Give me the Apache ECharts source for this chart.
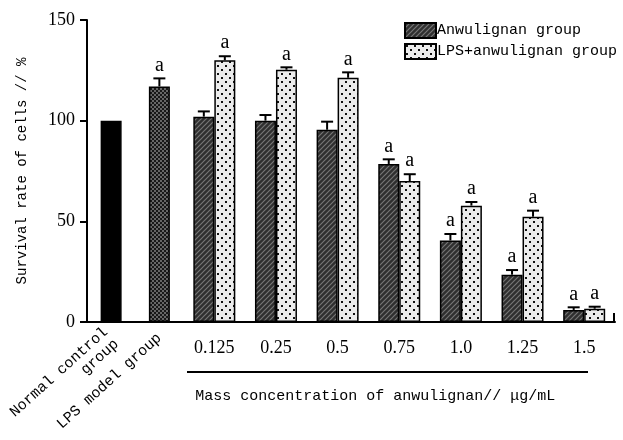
<!DOCTYPE html>
<html>
<head>
<meta charset="utf-8">
<script src="https://cdn.jsdelivr.net/npm/echarts@6/dist/echarts.min.js"></script>
<style>
    html, body { margin: 0; padding: 0; background: #fff; }
    #main { width: 623px; height: 440px; }
</style>
</head>
<body>
<div id="main"></div>
<script>
// control groups (left part of the chart)
var controlNames = ['Normal control\ngroup', 'LPS model group'];
var controlValues = [100, 117];
var controlErr = [0, 4];
var controlMarks = ['', 'a'];

// anwulignan concentrations
var concLabels = ['0.125', '0.25', '0.5', '0.75', '1.0', '1.25', '1.5'];
var anwValues = [102, 100, 95.5, 78.5, 40.5, 23.5, 6];
var anwErr = [2.6, 2.8, 4, 2.3, 3.2, 2.3, 1.3];
var anwMarks = ['', '', '', 'a', 'a', 'a', 'a'];
var lpsValues = [130, 125.3, 121.3, 70, 57.8, 52.3, 6.6];
var lpsErr = [2, 1.2, 2.7, 3.4, 1.8, 3, 1];
var lpsMarks = ['a', 'a', 'a', 'a', 'a', 'a', 'a'];

var yTicks = [0, 50, 100, 150];

var monoFont = '"Liberation Mono", "DejaVu Sans Mono", monospace';
var serifFont = '"Liberation Serif", "DejaVu Serif", serif';
var barW = 21;

// fill patterns
function makeCanvas(w, h, draw) {
    var c = document.createElement('canvas');
    c.width = w;
    c.height = h;
    draw(c.getContext('2d'));
    return c;
}
var hatch = makeCanvas(5, 5, function(ctx) {
    ctx.fillStyle = '#2f2f2f';
    ctx.fillRect(0, 0, 5, 5);
    ctx.strokeStyle = '#767676';
    ctx.lineWidth = 1.2;
    ctx.beginPath();
    ctx.moveTo(-1, 6); ctx.lineTo(6, -1);
    ctx.moveTo(-1, 1); ctx.lineTo(1, -1);
    ctx.moveTo(4, 6); ctx.lineTo(6, 4);
    ctx.stroke();
});
var dots = makeCanvas(8, 8, function(ctx) {
    ctx.fillStyle = '#ececec';
    ctx.fillRect(0, 0, 8, 8);
    ctx.fillStyle = '#111';
    ctx.fillRect(1, 1, 2, 2);
    ctx.fillRect(5, 5, 2, 2);
});
var checker = makeCanvas(4, 4, function(ctx) {
    ctx.fillStyle = '#181818';
    ctx.fillRect(0, 0, 4, 4);
    ctx.fillStyle = '#666';
    ctx.fillRect(0, 0, 2, 2);
    ctx.fillRect(2, 2, 2, 2);
});

function errData(vals, errs) {
    var out = [];
    for (var i = 0; i < vals.length; i++) {
        out.push([i, vals[i], errs[i]]);
    }
    return out;
}

function errRender(offset, marks) {
    return function(params, api) {
        var x = api.value(0);
        var v = api.value(1);
        var e = api.value(2);
        var base = api.coord([x, v]);
        var top = api.coord([x, v + e]);
        var cx = base[0] + offset;
        var children = [];
        var style = { stroke: '#000', lineWidth: 2 };
        if (e > 0) {
            children.push({ type: 'line', shape: { x1: cx, y1: base[1], x2: cx, y2: top[1] }, style: style });
            children.push({ type: 'line', shape: { x1: cx - 6, y1: top[1], x2: cx + 6, y2: top[1] }, style: style });
        }
        var m = marks[params.dataIndex];
        if (m) {
            children.push({
                type: 'text',
                x: cx,
                y: top[1] - 3,
                style: { text: m, fill: '#000', font: '20px ' + serifFont, align: 'center', verticalAlign: 'bottom' }
            });
        }
        return { type: 'group', children: children };
    };
}

var dom = document.getElementById('main');
var myChart = echarts.init(dom);

var option = {
    backgroundColor: '#fff',
    animation: false,
    legend: {
        data: ['Anwulignan group', 'LPS+anwulignan group'],
        orient: 'vertical',
        left: 404,
        top: 22,
        padding: 0,
        itemWidth: 31,
        itemHeight: 15,
        itemGap: 4,
        icon: 'rect',
        textStyle: { fontFamily: monoFont, fontSize: 15, color: '#000', padding: [0, 0, 0, -4] }
    },
    grid: [
        { left: 87, top: 20, width: 96.5, bottom: 118 },
        { left: 183.5, top: 20, width: 431.5, bottom: 118 }
    ],
    xAxis: [{
        type: 'category',
        gridIndex: 0,
        data: controlNames,
        axisLine: { lineStyle: { color: '#000', width: 2 } },
        axisTick: { show: false },
        axisLabel: {
            rotate: 42,
            margin: 14,
            fontFamily: monoFont,
            fontSize: 15,
            lineHeight: 16,
            color: '#000'
        }
    }, {
        type: 'category',
        gridIndex: 1,
        data: concLabels,
        axisLine: { lineStyle: { color: '#000', width: 2 } },
        axisTick: { show: false },
        axisLabel: { margin: 17, fontFamily: serifFont, fontSize: 18, color: '#000' },
        name: 'Mass concentration of anwulignan// μg/mL',
        nameLocation: 'middle',
        nameGap: 67,
        nameTextStyle: { fontFamily: monoFont, fontSize: 15, color: '#000', padding: [0, 48, 0, 0] }
    }],
    yAxis: [{
        type: 'value',
        gridIndex: 0,
        min: yTicks[0],
        max: yTicks[yTicks.length - 1],
        interval: 50,
        axisLine: { show: true, lineStyle: { color: '#000', width: 2 } },
        axisTick: { show: true, length: 7, lineStyle: { color: '#000', width: 2 } },
        splitLine: { show: false },
        axisLabel: { margin: 12, fontFamily: serifFont, fontSize: 18, color: '#000' },
        name: 'Survival rate of cells // %',
        nameLocation: 'middle',
        nameGap: 58,
        nameTextStyle: { fontFamily: monoFont, fontSize: 14, color: '#000' }
    }, {
        type: 'value',
        gridIndex: 1,
        min: yTicks[0],
        max: yTicks[yTicks.length - 1],
        interval: 50,
        show: false
    }],
    series: [{
        name: 'Control',
        type: 'bar',
        xAxisIndex: 0,
        yAxisIndex: 0,
        barWidth: barW,
        data: [
            { value: controlValues[0], itemStyle: { color: '#000' } },
            { value: controlValues[1], itemStyle: { color: { image: checker, repeat: 'repeat' } } }
        ],
        itemStyle: { borderColor: '#000', borderWidth: 1.5 }
    }, {
        name: 'Anwulignan group',
        type: 'bar',
        xAxisIndex: 1,
        yAxisIndex: 1,
        barWidth: barW,
        barGap: '0%',
        data: anwValues,
        itemStyle: { color: { image: hatch, repeat: 'repeat' }, borderColor: '#000', borderWidth: 1.5 }
    }, {
        name: 'LPS+anwulignan group',
        type: 'bar',
        xAxisIndex: 1,
        yAxisIndex: 1,
        barWidth: barW,
        barGap: '0%',
        data: lpsValues,
        itemStyle: { color: { image: dots, repeat: 'repeat' }, borderColor: '#000', borderWidth: 1.5 }
    }, {
        name: 'ctlErr',
        type: 'custom',
        xAxisIndex: 0,
        yAxisIndex: 0,
        z: 5,
        renderItem: errRender(0, controlMarks),
        data: errData(controlValues, controlErr)
    }, {
        name: 'anwErr',
        type: 'custom',
        xAxisIndex: 1,
        yAxisIndex: 1,
        z: 5,
        renderItem: errRender(-barW / 2, anwMarks),
        data: errData(anwValues, anwErr)
    }, {
        name: 'lpsErr',
        type: 'custom',
        xAxisIndex: 1,
        yAxisIndex: 1,
        z: 5,
        renderItem: errRender(barW / 2, lpsMarks),
        data: errData(lpsValues, lpsErr)
    }],
    graphic: [{
        type: 'line',
        shape: { x1: 187, y1: 372, x2: 588, y2: 372 },
        style: { stroke: '#000', lineWidth: 2 }
    }, {
        type: 'line',
        shape: { x1: 614, y1: 313, x2: 614, y2: 322 },
        style: { stroke: '#000', lineWidth: 2 }
    }]
};

if (option && typeof option === "object") {
    myChart.setOption(option, true);
}
</script>
</body>
</html>
